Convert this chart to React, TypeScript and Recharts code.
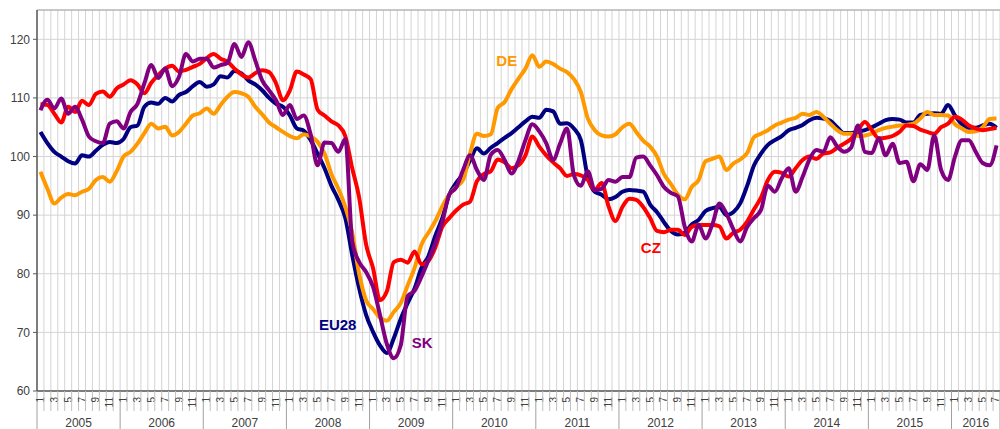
import React from 'react';
import {
  LineChart,
  Line,
  XAxis,
  YAxis,
  CartesianGrid,
  ReferenceLine,
  ReferenceDot,
} from 'recharts';

/* ── Data (monthly index values, Jan 2005 – Jul 2016) ───────── */
const YEARS = [2005, 2006, 2007, 2008, 2009, 2010, 2011, 2012, 2013, 2014, 2015, 2016];
const Y_TICKS = [60, 70, 80, 90, 100, 110, 120];

const EU28 = [
  104.2, 102.3, 100.8, 100, 99.2, 98.8, 100.2, 100, 101, 102, 102.5, 102.3,
  103, 105, 105.3, 108.5, 109.2, 109, 110, 109.4, 110.5, 111, 112, 112.7,
  111.9, 112.3, 113.7, 113.5, 114.6, 114.2, 113, 112.3, 111.3, 110, 109, 108.5,
  107, 104.8, 104.4, 102.8, 100.5, 98, 95, 92.6, 89.5, 83.2, 77.5, 73,
  70.1, 67.8, 66.5, 69, 72.3, 75, 77.5, 81, 83, 86.5, 89.5, 93.5,
  95.5, 97, 99.3, 101.4, 100.5, 101.5, 102.3, 103.2, 104, 105, 106, 106.8,
  106.6, 108, 107.7, 105.6, 105.7, 104.8, 102.8, 96.5, 94, 93.5, 92.7, 93.1,
  94, 94.3, 94.2, 94, 91.8, 90.5, 88.8, 87.3, 86.7, 87, 88.4, 89.2,
  90.7, 91.2, 91.4, 90, 90.5, 92, 95, 98.5, 100.5, 102, 102.8, 103.5,
  104.5, 104.9, 105.4, 106.2, 106.6, 106.5, 106.1, 105, 104, 104, 104.2, 104.5,
  105, 105.6, 106.2, 106.4, 106.3, 105.8, 105.8, 107.1, 107.3, 107.4, 107.3, 108.8,
  107, 105.5, 104.9, 104.9, 105.3, 105.6, 104.9,
];

const DE = [
  97.4, 94.5, 92, 93, 93.6, 93.4, 94, 94.5, 96, 96.5, 95.7, 97.5,
  100, 100.8, 102.2, 104, 105.6, 104.8, 105.1, 103.6, 104.2, 105.6, 107, 107.4,
  108.2, 107.3, 108.8, 110.2, 111, 110.8, 110.2, 108.5, 107.2, 105.8, 105, 104.2,
  103.5, 103.1, 103.8, 103.4, 102.5, 100.5, 97, 94.5, 91.4, 87, 80, 75.5,
  74, 72.5, 72, 73.5, 75, 78, 81, 85, 87, 89, 91.5, 93.5,
  94.8, 96, 100.5, 103.9, 103.5, 103.8, 108.3, 109.3, 111.5, 113.3, 115, 117.3,
  115.3, 116.2, 115.8, 115, 114.4, 113.2, 111, 106.5, 104.5, 103.6, 103.4, 103.8,
  105, 105.6, 104.2, 102.7, 101.7, 100, 97, 95.3, 93.5, 92.7, 94.8, 96,
  99.2, 99.6, 100, 97.7, 98.8, 99.5, 100.6, 103.3, 103.9, 104.5, 105.3, 105.8,
  106.3, 106.6, 107.3, 107.1, 107.6, 106.8, 105.6, 104.5, 103.9, 103.9, 103.5, 103.6,
  103.9, 104.5, 104.9, 105.1, 105.3, 105.4, 105.6, 106.5, 107.6, 107.1, 107.1, 107,
  105.5, 104.8, 104.2, 104.3, 105, 106.4, 106.5,
];

const CZ = [
  108.9, 108.8, 107.3, 105.8, 108.5, 107.6, 109.5, 108.8, 110.7, 111.1, 110.2, 111.6,
  112.3, 113, 112.3, 110.8, 112.6, 113.9, 115, 115.5, 114.5, 114.8, 115.3, 115.8,
  116.8, 117.5, 116.7, 116.2, 115, 114, 113.5, 114.2, 114.7, 114.4, 112.5, 109.6,
  111.3, 114.5, 114, 113.2, 108, 107, 106, 105.3, 103.5, 98, 93, 85,
  81, 75.5, 77, 82, 82.4, 81.9, 83.8, 81.6, 82.2, 84.5, 88, 89.5,
  90.8, 91.8, 92.3, 95.8, 97, 97.5, 99.5, 99, 98, 98.5, 100.2, 103.4,
  101.7, 100.2, 99, 98, 96.7, 97, 96.8, 96, 94.3, 95.5, 91.5, 89,
  91.4, 92.8, 92.6, 91.4, 89.5, 87.3, 87.1, 87.5, 87.5, 86.6, 88, 88.3,
  88.3, 88.3, 88.1, 86, 87, 87.5, 88.9, 91, 93, 96, 97.4, 97.2,
  96.6, 98, 99.4, 100, 99.6, 100.5, 100.7, 101.5, 102.2, 103, 104.5, 105.9,
  104.5, 103.1, 103.2, 103.5, 104.2, 105.3, 105.2, 104.6, 104.2, 103.9, 105, 105.6,
  106.8, 106.3, 105.3, 104.8, 104.5, 104.7, 104.9,
];

const SK = [
  107.9, 109.7, 108.2, 109.9, 107.3, 108.5, 106.3, 103.4, 102.6, 102.3, 105.6, 106,
  104.8, 107.6, 109, 112.5, 115.6, 113.4, 115, 112, 113.6, 117.5, 116.2, 116.7,
  116.7, 115.2, 115.6, 116, 119.2, 117, 119.5, 116.4, 113, 111.3, 109.6, 107.1,
  108.8, 106.4, 107, 103.8, 98.5, 102.4, 102.3, 100.8, 103, 85.5, 82, 80.3,
  77.8, 73, 68, 65.6, 67.8, 76.2, 77.1, 79.5, 82.3, 85.2, 88.8, 93.5,
  94.7, 97.7, 100.2, 97.7, 96, 100.3, 101.1, 99.4, 97.1, 99.3, 102.8, 105.5,
  104.3, 102.3, 99.4, 102.2, 104.8, 96.8, 95, 97.5, 94.3, 94.5, 96, 95.7,
  96.5, 96.5, 99.8, 100, 98.5, 96.8, 94.8, 93.8, 93.2, 88, 85.5, 88.3,
  86, 88.5, 92, 90.3, 87.6, 85.5, 88, 89.5, 90.9, 95, 94, 96.3,
  98, 94, 96.5, 99.5, 101.1, 100.8, 103.3, 101.7, 100.8, 101.5, 105.3, 100.8,
  100.6, 103.1, 100.2, 102.2, 98.9, 99.1, 95.8, 98.7, 97.7, 103.6, 97.7, 96,
  100, 102.8, 102.8, 100.8, 98.9, 98.5, 101.9,
];

/* ── Layout / style tokens ─────────────────────────────────── */
const CHART_W = 1000;
const CHART_H = 429;
const Y_AXIS_W = 37;
const X_AXIS_H = 38;
const TOTAL = EU28.length;
const CELL = (CHART_W - Y_AXIS_W) / TOTAL;

const COLORS = {
  eu: '#000080',
  de: '#FF9900',
  cz: '#FF0000',
  sk: '#800080',
  axis: '#595959',
  grid: '#d4d4d4',
  text: '#404040',
  tick: '#c0c0c0',
};
const FONT = "'Liberation Sans', Arial, sans-serif";

const rows = EU28.map((v, i) => ({
  x: i + 0.5,
  EU28: v,
  DE: DE[i],
  CZ: CZ[i],
  SK: SK[i],
}));
const boundaries = Array.from({ length: TOTAL + 1 }, (_, k) => k);

/* ── Custom x tick: month ticks, rotated month numbers, year bands ── */
const MonthTick = (props: any) => {
  const { x, y, payload } = props;
  const k: number = payload.value;
  const isYear = k % 12 === 0 || k === TOTAL;
  const month = (k % 12) + 1;
  // keep the last rotated label inside the canvas
  const cx = Math.min(x + CELL / 2, CHART_W - 5);
  const yearIdx = Math.floor(k / 12);
  const span = Math.min(12, TOTAL - k);
  return (
    <g>
      <line
        x1={x}
        y1={y}
        x2={x}
        y2={y + (isYear ? X_AXIS_H : 20)}
        stroke={isYear ? '#a0a0a0' : COLORS.tick}
        strokeWidth={1}
      />
      {k < TOTAL && month % 2 === 1 && (
        <text
          transform={`translate(${cx},${y + 6}) rotate(-90)`}
          textAnchor="end"
          dy="0.35em"
          fontFamily={FONT}
          fontSize={10}
          fill={COLORS.text}
        >
          {month}
        </text>
      )}
      {k < TOTAL && k % 12 === 0 && (
        <text
          x={x + (span * CELL) / 2}
          y={y + 36}
          textAnchor="middle"
          fontFamily={FONT}
          fontSize={12}
          fill={COLORS.text}
        >
          {YEARS[yearIdx]}
        </text>
      )}
    </g>
  );
};

const seriesLabel = (text: string, color: string) => (p: any) => (
  <text
    x={p.viewBox.x}
    y={p.viewBox.y}
    textAnchor="middle"
    dominantBaseline="central"
    fontFamily={FONT}
    fontSize={15}
    fontWeight={700}
    fill={color}
  >
    {text}
  </text>
);

export default function App() {
  return (
    <div style={{ position: 'absolute', left: 0, top: 0, width: CHART_W, height: CHART_H, background: '#fff' }}>
      <LineChart
        width={CHART_W}
        height={CHART_H}
        data={rows}
        margin={{ top: 10, right: 0, bottom: 0, left: 0 }}
      >
        <CartesianGrid stroke={COLORS.grid} strokeWidth={1} />
        <ReferenceLine y={125} stroke="#a6a6a6" strokeWidth={1} />
        <XAxis
          dataKey="x"
          type="number"
          domain={[0, TOTAL]}
          ticks={boundaries}
          interval={0}
          height={X_AXIS_H}
          tickLine={false}
          tickSize={0}
          tickMargin={0}
          axisLine={{ stroke: COLORS.axis, strokeWidth: 1.5 }}
          tick={<MonthTick />}
        />
        <YAxis
          type="number"
          domain={[60, 125]}
          ticks={Y_TICKS}
          interval={0}
          width={Y_AXIS_W}
          allowDataOverflow
          tickSize={4}
          tickMargin={3}
          axisLine={{ stroke: COLORS.axis, strokeWidth: 1.5 }}
          tickLine={{ stroke: COLORS.axis }}
          tick={{ fontFamily: FONT, fontSize: 12, fill: COLORS.text }}
        />

        <Line type="monotone" dataKey="EU28" stroke={COLORS.eu} strokeWidth={4} dot={false} isAnimationActive={false} />
        <Line type="monotone" dataKey="DE" stroke={COLORS.de} strokeWidth={4} dot={false} isAnimationActive={false} />
        <Line type="monotone" dataKey="CZ" stroke={COLORS.cz} strokeWidth={4} dot={false} isAnimationActive={false} />
        <Line type="monotone" dataKey="SK" stroke={COLORS.sk} strokeWidth={4} dot={false} isAnimationActive={false} />

        {/* Series name labels */}
        <ReferenceDot x={43.4} y={71.3} r={0} stroke="none" label={seriesLabel('EU28', COLORS.eu)} />
        <ReferenceDot x={55.6} y={68.2} r={0} stroke="none" label={seriesLabel('SK', COLORS.sk)} />
        <ReferenceDot x={67.8} y={116.3} r={0} stroke="none" label={seriesLabel('DE', COLORS.de)} />
        <ReferenceDot x={88.6} y={84.4} r={0} stroke="none" label={seriesLabel('CZ', COLORS.cz)} />
      </LineChart>
    </div>
  );
}
